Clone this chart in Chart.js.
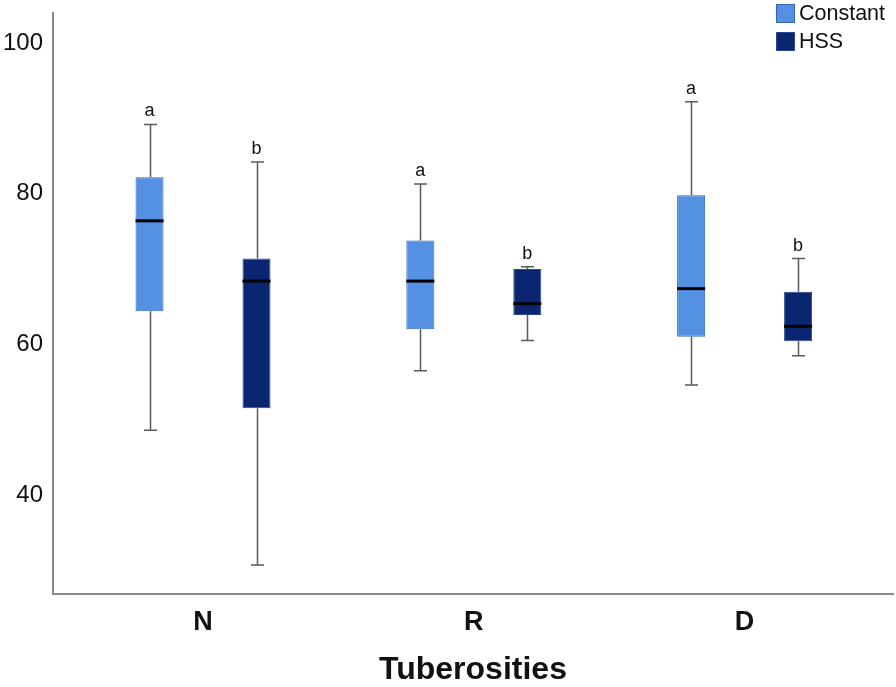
<!DOCTYPE html>
<html>
<head>
<meta charset="utf-8">
<script src="https://cdn.jsdelivr.net/npm/chart.js@4/dist/chart.umd.min.js"></script>
<style>
  html, body { margin: 0; padding: 0; background: #ffffff; }
  #wrap { width: 896px; height: 687px; }
</style>
</head>
<body>
<div id="wrap"><canvas id="c" width="896" height="687"></canvas></div>
<script>
// ---- data ----
const categories = ['N', 'R', 'D'];
const seriesNames = ['Constant', 'HSS'];
const yTicks = [40, 60, 80, 100];

const constantMin    = [48.6, 56.5, 54.6];
const constantQ1     = [64.4, 62.0, 61.0];
const constantMedian = [76.4, 68.4, 67.4];
const constantQ3     = [82.2, 73.8, 79.8];
const constantMax    = [89.2, 81.3, 92.2];
const constantLetters = ['a', 'a', 'a'];

const hssMin    = [30.7, 60.5, 58.5];
const hssQ1     = [51.5, 63.9, 60.4];
const hssMedian = [68.4, 65.4, 62.4];
const hssQ3     = [71.4, 70.0, 67.0];
const hssMax    = [84.2, 70.3, 71.4];
const hssLetters = ['b', 'b', 'b'];

// ---- build structures ----
const stats = [
  { min: constantMin, q1: constantQ1, med: constantMedian, q3: constantQ3, max: constantMax, letters: constantLetters },
  { min: hssMin, q1: hssQ1, med: hssMedian, q3: hssQ3, max: hssMax, letters: hssLetters }
];
const fills = ['#5591e3', '#0b2670'];
const borders = ['#3465b8', '#2a4790'];

const datasets = stats.map((s, di) => ({
  label: seriesNames[di],
  data: categories.map((c, i) => ({ x: i, y: [s.q1[i], s.q3[i]] })),
  backgroundColor: fills[di],
  borderColor: borders[di],
  borderWidth: 1,
  borderSkipped: false,
  categoryPercentage: 0.79,
  barPercentage: 0.262
}));

const boxExtras = {
  id: 'boxExtras',
  afterDatasetsDraw(chart) {
    const ctx = chart.ctx;
    const ys = chart.scales.y;
    ctx.save();
    chart.data.datasets.forEach((ds, di) => {
      const meta = chart.getDatasetMeta(di);
      const s = stats[di];
      meta.data.forEach((bar, i) => {
        const x = Math.round(bar.x) + 0.5;
        const w = bar.width;
        const pMin = ys.getPixelForValue(s.min[i]);
        const pMax = ys.getPixelForValue(s.max[i]);
        const pQ1 = ys.getPixelForValue(s.q1[i]);
        const pQ3 = ys.getPixelForValue(s.q3[i]);
        const pMed = ys.getPixelForValue(s.med[i]);
        // whiskers
        ctx.strokeStyle = '#5a5a5a';
        ctx.lineWidth = 1.5;
        ctx.beginPath();
        ctx.moveTo(x, pQ3); ctx.lineTo(x, pMax);
        ctx.moveTo(x, pQ1); ctx.lineTo(x, pMin);
        const cap = 6.5;
        ctx.moveTo(x - cap, pMax); ctx.lineTo(x + cap, pMax);
        ctx.moveTo(x - cap, pMin); ctx.lineTo(x + cap, pMin);
        ctx.stroke();
        // median
        ctx.strokeStyle = '#000000';
        ctx.lineWidth = 3;
        ctx.beginPath();
        ctx.moveTo(bar.x - w / 2, pMed); ctx.lineTo(bar.x + w / 2, pMed);
        ctx.stroke();
        // letters
        ctx.fillStyle = '#111111';
        ctx.font = '18px "Liberation Sans", Arial, sans-serif';
        ctx.textAlign = 'center';
        ctx.textBaseline = 'alphabetic';
        ctx.fillText(s.letters[i], bar.x, pMax - 8);
      });
    });
    ctx.restore();
  },
  afterDraw(chart) {
    const ctx = chart.ctx;
    ctx.save();
    chart.data.datasets.forEach((ds, di) => {
      const bx = 776, by = 4 + di * 28, sz = 19;
      ctx.fillStyle = ds.backgroundColor;
      ctx.fillRect(bx, by, sz, sz);
      ctx.strokeStyle = ds.borderColor;
      ctx.lineWidth = 1;
      ctx.strokeRect(bx + 0.5, by + 0.5, sz - 1, sz - 1);
      ctx.fillStyle = '#111111';
      ctx.font = '21.5px "Liberation Sans", Arial, sans-serif';
      ctx.textAlign = 'left';
      ctx.textBaseline = 'middle';
      ctx.fillText(ds.label, bx + sz + 4, by + sz / 2 + 1);
    });
    ctx.restore();
  }
};

new Chart(document.getElementById('c'), {
  type: 'bar',
  data: { datasets },
  plugins: [boxExtras],
  options: {
    responsive: false,
    devicePixelRatio: 1,
    animation: false,
    layout: { padding: { left: 0, top: 13, right: 3, bottom: 0 } },
    plugins: { legend: { display: false }, tooltip: { enabled: false } },
    scales: {
      x: {
        type: 'linear',
        offset: false,
        min: -0.554,
        max: 2.548,
        grid: { display: false, drawTicks: false },
        border: { display: true, color: '#8a8a8a', width: 2 },
        afterBuildTicks(scale) { scale.ticks = categories.map((c, i) => ({ value: i })); },
        afterFit(scale) { scale.height = 93; scale.paddingLeft = 0; scale.paddingRight = 0; },
        ticks: {
          autoSkip: false,
          maxRotation: 0,
          padding: 12,
          color: '#111111',
          font: { family: '"Liberation Sans", Arial, sans-serif', size: 27, weight: 'bold' },
          callback: (v) => categories[v] !== undefined ? categories[v] : ''
        },
        title: {
          display: true,
          text: 'Tuberosities',
          color: '#111111',
          padding: { top: 0, bottom: 0 },
          font: { family: '"Liberation Sans", Arial, sans-serif', size: 32, weight: 'bold', lineHeight: 1.05 }
        }
      },
      y: {
        type: 'linear',
        min: 26.85,
        max: 104,
        grid: { display: false, drawTicks: false },
        border: { display: true, color: '#8a8a8a', width: 2 },
        afterBuildTicks(scale) { scale.ticks = yTicks.map(v => ({ value: v })); },
        afterFit(scale) { scale.width = 53; scale.paddingTop = 0; scale.paddingBottom = 0; },
        ticks: {
          padding: 10,
          color: '#111111',
          font: { family: '"Liberation Sans", Arial, sans-serif', size: 24 },
          callback: (v) => String(v)
        }
      }
    }
  }
});
</script>
</body>
</html>
